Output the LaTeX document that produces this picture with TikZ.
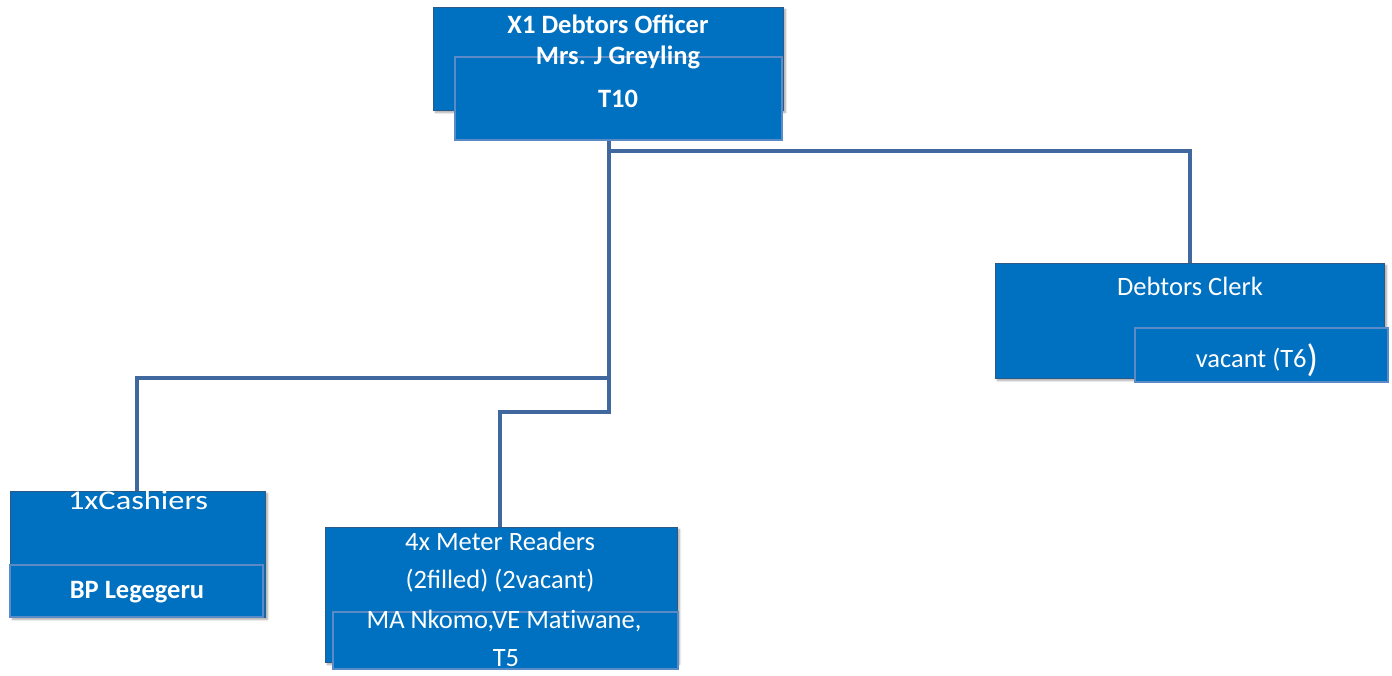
\documentclass[tikz,border=0pt]{standalone}
\usepackage{fontspec}
\setmainfont{Carlito}
\usetikzlibrary{shadows.blur}
\definecolor{boxblue}{HTML}{0070C0}
\definecolor{outerline}{HTML}{2B5A86}
\definecolor{innerline}{HTML}{5B8BC6}
\definecolor{linkblue}{HTML}{41689E}
\tikzset{
  outerbox/.style={draw=outerline, line width=0.9pt, fill=boxblue, inner sep=0pt, outer sep=0pt,
    anchor=north west, blur shadow={shadow xshift=2.5pt, shadow yshift=-2.5pt, shadow blur steps=6, shadow opacity=35}},
  innerbox/.style={draw=innerline, line width=1.2pt, fill=boxblue, inner sep=0pt, outer sep=0pt, anchor=north west},
  label/.style={text=white, inner sep=0pt, anchor=base, font=\fontsize{26.5}{31}\selectfont},
  boldlabel/.style={label, font=\fontsize{26.5}{31}\selectfont\bfseries},
  link/.style={draw=linkblue, line width=4.5pt}
}
\begin{document}
\begin{tikzpicture}[x=1pt,y=-1pt]
\useasboundingbox (0,0) rectangle (1392,675);

% reporting lines
\coordinate (split) at (609,151);
\coordinate (cashjoint) at (609,378);
\coordinate (meterjoint) at (609,412);
\coordinate (top) at (609,140);
\draw[link] (top) -- (split) -| (1190,265);
\draw[link] (split) -- (meterjoint) -| (500,528);
\draw[link] (cashjoint) -| (137,492);

% Debtors Officer
\node[outerbox, minimum width=350pt, minimum height=103pt] (officer) at (433,7) {};
\node[innerbox, minimum width=327pt, minimum height=83pt] (t10box) at (455,57) {};

% Debtors Clerk
\node[outerbox, minimum width=389pt, minimum height=115pt] (clerk) at (995,263) {};
\node[innerbox, minimum width=253pt, minimum height=54pt] (clerkinner) at (1135,328) {};

% Cashiers
\node[outerbox, minimum width=255pt, minimum height=126pt] (cashier) at (10,491) {};
\node[innerbox, minimum width=253pt, minimum height=52pt] (cashierinner) at (10,565) {};

% Meter Readers
\node[outerbox, minimum width=352pt, minimum height=135pt] (meter) at (325,527) {};
\node[innerbox, minimum width=345pt, minimum height=57pt] (meterinner) at (333,612) {};

% texts
\node[boldlabel] (offtitle) at (608,33) {X1 Debtors Officer};
\node[boldlabel] (offname) at (618,64) {Mrs. J Greyling};
\node[boldlabel] (offgrade) at (618,107) {T10};

\node[label] (clerktitle) at (1190,295) {Debtors Clerk};
\node[label] (clerkstate) at (1257,367) {vacant (T6\raisebox{-0.16em}{\fontsize{38}{38}\selectfont)}};

\node[label, xscale=1.2, font=\fontsize{27}{30}\selectfont] (cashtitle) at (138,509) {1xCashiers};
\node[boldlabel] (cashname) at (137,598) {BP Legegeru};

\node[label] (metertitle) at (500,550) {4x Meter Readers};
\node[label] (meterstate) at (500,588) {(2filled) (2vacant)};
\node[label] (meternames) at (504,628) {MA Nkomo,VE Mat\kern0pt iwane,};
\node[label] (metergrade) at (506,666) {T5};
\end{tikzpicture}
\end{document}
